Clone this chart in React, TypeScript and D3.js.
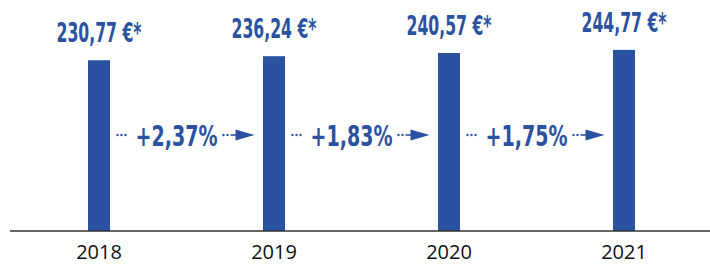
import * as d3 from 'd3'
import React from 'react'

// chart values
const years = ['2018', '2019', '2020', '2021']
const amounts = [230.77, 236.24, 240.57, 244.77]
const amountLabels = ['230,77 €*', '236,24 €*', '240,57 €*', '244,77 €*']
const growthLabels = ['+2,37%', '+1,83%', '+1,75%']

const W = 710
const H = 265
const blue = '#2A52A1'
const condensed = '"Liberation Sans Narrow", "DejaVu Sans Condensed", "Roboto", sans-serif'

export default function App() {
    // one point per year, bars are 22px wide around it
    const x = d3.scalePoint<string>().domain(years).range([11.5, 711.5]).padding(0.5)
    const y = d3.scaleLinear().domain([0, 300]).range([231, 9])
    const barW = 22

    // dotted arrow between two bars
    const arrow = (mid: number, cy: number) => {
        const tri = d3.line()([[mid + 49, cy - 5.5], [mid + 68, cy], [mid + 49, cy + 5.5]]) + 'Z'
        return (
            <g>
                {[-69, -65, -61, 37, 41].map(dx => (
                    <circle key={dx} cx={mid + dx} cy={cy} r={1.2} fill={blue} />
                ))}
                <line x1={mid + 44} x2={mid + 50} y1={cy} y2={cy} stroke={blue} strokeWidth={1.6} />
                <path d={tri} fill={blue} />
            </g>
        )
    }

    return (
        <svg width={W} height={H} style={{ position: 'absolute', left: 0, top: 0 }}>
            {years.map((yr, i) => {
                const cx = x(yr)!
                const top = y(amounts[i])
                return (
                    <g key={yr}>
                        <rect x={cx - barW / 2} y={top} width={barW} height={y(0) - top} fill={blue} />
                        <text x={cx} y={top - 18} textAnchor="middle" fill={blue}
                            fontFamily={condensed} fontWeight="bold" fontSize={26}
                            textLength={85} lengthAdjust="spacingAndGlyphs">
                            {amountLabels[i]}
                        </text>
                        <text x={cx} y={259} textAnchor="middle" fill="#111"
                            fontFamily='"Open Sans", sans-serif' fontSize={20}>
                            {yr}
                        </text>
                    </g>
                )
            })}

            {growthLabels.map((g, i) => {
                const mid = (x(years[i])! + x(years[i + 1])!) / 2
                return (
                    <g key={g}>
                        {arrow(mid, 135)}
                        <text x={mid - 10} y={145.5} textAnchor="middle" fill={blue}
                            fontFamily={condensed} fontWeight="bold" fontSize={28}
                            textLength={82} lengthAdjust="spacingAndGlyphs">
                            {g}
                        </text>
                    </g>
                )
            })}

            <line x1={10} x2={W} y1={231} y2={231} stroke="#333" strokeWidth={1.5} />
        </svg>
    )
}
